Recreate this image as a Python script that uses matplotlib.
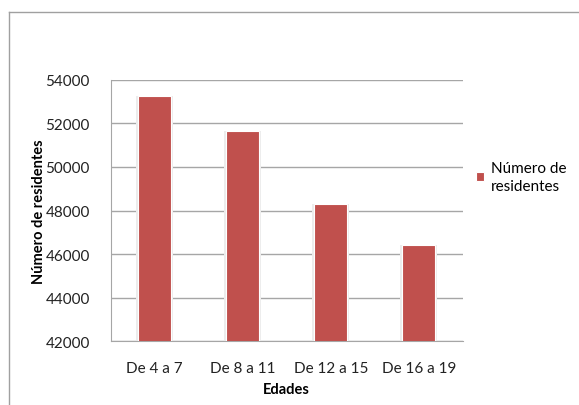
import matplotlib.pyplot as plt
from matplotlib.lines import Line2D

# data
categories = ["De 4 a 7", "De 8 a 11", "De 12 a 15", "De 16 a 19"]
residentes = [53270, 51660, 48290, 46430]
y_ticks = [42000, 44000, 46000, 48000, 50000, 52000, 54000]

plt.rcParams["font.family"] = ["Lato", "DejaVu Sans"]

fig = plt.figure(figsize=(5.79, 4.06), dpi=100)
ax = fig.add_axes([110.7 / 579, 1 - 342.3 / 406, 352 / 579, 261.6 / 406])

x = range(len(categories))
# soft glow behind the bars
ax.bar(x, residentes, width=0.42, color="#ececec", zorder=2)
ax.bar(x, residentes, width=0.38, color="#C0504D", edgecolor="white",
       linewidth=0.8, zorder=3, label="Número de\nresidentes")

ax.set_ylim(42000, 54000)
ax.set_xlim(-0.5, len(categories) - 0.5)
ax.set_yticks(y_ticks)
ax.set_yticklabels([str(v) for v in y_ticks])
ax.set_xticks(list(x))
ax.set_xticklabels(categories)
ax.tick_params(length=0, labelsize=11, pad=15, colors="#222222")
ax.tick_params(axis="x", pad=14)

ax.yaxis.grid(True, color="#a6a6a6", linewidth=1)
ax.set_axisbelow(True)
for s in ["top", "right"]:
    ax.spines[s].set_visible(False)
for s in ["left", "bottom"]:
    ax.spines[s].set_color("#a6a6a6")

ax.set_ylabel("Número de residentes", fontsize=10.5, fontweight="bold", va="center")
ax.yaxis.set_label_coords(-0.204, 0.5)
ax.set_xlabel("Edades", fontsize=10.5, fontweight="bold", va="center")
ax.xaxis.set_label_coords(0.5, -0.182)

handles, labels = ax.get_legend_handles_labels()
fig.legend(handles[-1:], labels[-1:], loc="upper left",
           bbox_to_anchor=(462 / 579, 1 - 148 / 406), frameon=False,
           fontsize=11, handlelength=0.55, handleheight=0.55, handletextpad=0.45)
plt.setp(fig.legends[0].get_texts(), linespacing=1.35)

# outer chart frame (cropped at right and bottom)
fig.add_artist(Line2D([9 / 579, 1], [1 - 13 / 406, 1 - 13 / 406],
                      color="#a0a0a0", linewidth=1, transform=fig.transFigure))
fig.add_artist(Line2D([9 / 579, 9 / 579], [0, 1 - 13 / 406],
                      color="#a0a0a0", linewidth=1, transform=fig.transFigure))

fig.savefig("out.png", dpi=100, facecolor="white")
